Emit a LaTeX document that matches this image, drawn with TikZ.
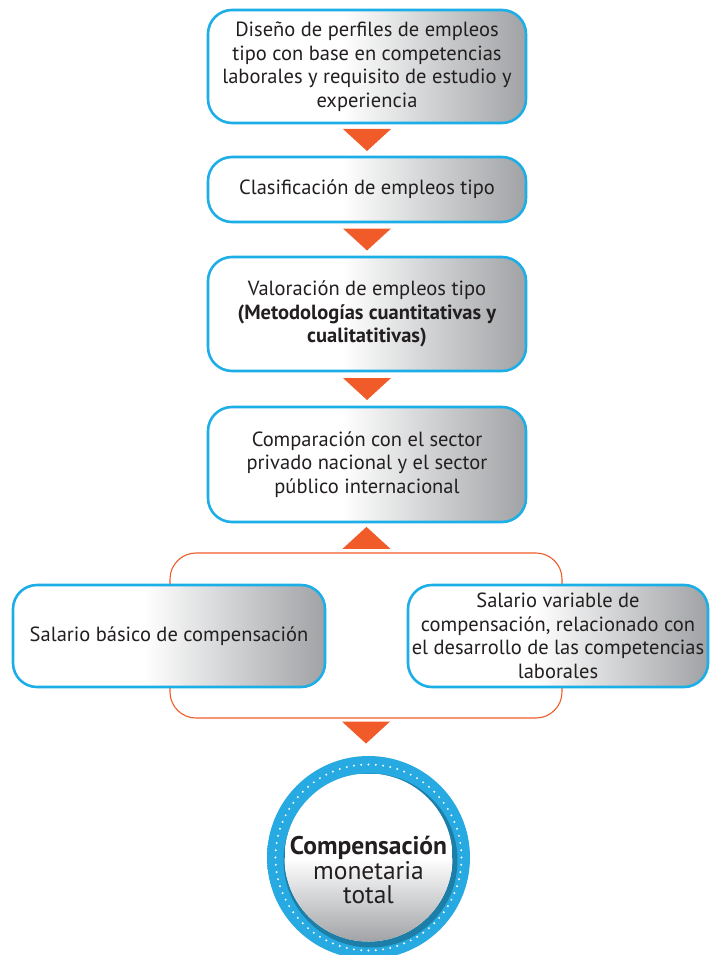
\documentclass[tikz,border=0pt]{standalone}
\usepackage{fontspec}
\setmainfont{PT Sans}
\usepackage{xcolor}
\usetikzlibrary{positioning, calc}

\definecolor{boxblue}{HTML}{1CAEE6}
\definecolor{arroworange}{HTML}{F15A29}
\definecolor{boxgray}{HTML}{A0A2A5}
\definecolor{txtgray}{HTML}{231F20}
\definecolor{ringblue}{HTML}{27A9E1}
\definecolor{ringdark}{HTML}{0B6DB0}

\pgfdeclareradialshading{ringshade}{\pgfpoint{0bp}{0bp}}{%
  color(0bp)=(ringblue); color(41bp)=(ringblue); color(46bp)=(ringblue!90!black);
  color(50bp)=(ringdark)}

\tikzset{
  stage/.style={draw=boxblue, line width=2.6pt, rounded corners=24pt,
    align=center, text=txtgray, inner sep=0pt,
    font=\fontsize{20.5}{23.5}\selectfont,
    path picture={
      \fill[white, sharp corners] (path picture bounding box.south west)
        rectangle (path picture bounding box.north east);
      \fill[sharp corners, left color=white, right color=boxgray]
        ($(path picture bounding box.south west)!0.42!(path picture bounding box.south east)$)
        rectangle (path picture bounding box.north east);
    }},
  group/.style={draw=arroworange, line width=1.1pt, rounded corners=26pt},
  % white disc that turns grey towards its lower edge
  disc/.style={circle, inner sep=0pt,
    path picture={
      \fill[white] (path picture bounding box.south west)
        rectangle (path picture bounding box.north east);
      \foreach \i in {0,...,39}{
        \pgfmathsetmacro\p{2.5*\i}
        \fill[boxgray!\p!white] ($(path picture bounding box.center)+(-90,\i*2.1)$)
          rectangle ($(path picture bounding box.center)+(90,\i*2.1+2.6)$);
      }
    }}
}

% orange arrowheads between the stages
\newcommand{\tridown}[1]{\fill[arroworange] ($(#1)+(-24,-11)$) -- ($(#1)+(24,-11)$) -- ($(#1)+(0,11)$) -- cycle;}
\newcommand{\triup}[1]{\fill[arroworange] ($(#1)+(-24,11)$) -- ($(#1)+(24,11)$) -- ($(#1)+(0,-11)$) -- cycle;}

\begin{document}
\begin{tikzpicture}[x=1pt, y=-1pt]
    \useasboundingbox (0,0) rectangle (710,955);

    % Frame joining the two salary boxes
    \node[group, minimum width=392pt, minimum height=165pt] (grp) at (366,635.5) {};

    % Main chain of stages
    \node[stage, minimum width=318pt, minimum height=113pt] (perfil) at (367,66.5)
        {Diseño de perfiles de empleos\\ tipo con base en competencias\\ laborales y requisito de estudio y\\ experiencia};
    \node[stage, minimum width=318pt, minimum height=65pt] (clasif) at (367,189.5)
        {Clasificación de empleos tipo};
    \node[stage, minimum width=318pt, minimum height=114pt] (valor) at (367,314)
        {Valoración de empleos tipo\\ \textbf{(Metodologías cuantitativas y}\\ \textbf{cualitatitivas)}};
    \node[stage, minimum width=318pt, minimum height=115pt] (compar) at (367,464.5)
        {Comparación con el sector\\ privado nacional y el sector\\ público internacional};

    % The two salary boxes
    \node[stage, minimum width=312pt, minimum height=102pt] (basico) at (169,636)
        {Salario básico de compensación};
    \node[stage, minimum width=300pt, minimum height=102pt] (variable) at (558,636)
        {Salario variable de\\ compensación, relacionado con\\ el desarrollo de las competencias\\ laborales};

    % Arrowheads
    \coordinate (a1) at ($(perfil.south)!0.5!(clasif.north)$);
    \coordinate (a2) at ($(clasif.south)!0.5!(valor.north)$);
    \coordinate (a3) at ($(valor.south)!0.5!(compar.north)$);
    \coordinate (a4) at ($(compar.south)!0.5!(grp.north)$);
    \coordinate (a5) at ($(grp.south)+(0,14)$);
    \tridown{a1}
    \tridown{a2}
    \tridown{a3}
    \triup{a4}
    \tridown{a5}

    % Result: total compensation
    \node[circle, minimum size=203pt, inner sep=0pt, shading=ringshade] (total) at (368.5,857.5) {};
    \fill[black, opacity=0.25] ($(total.center)+(2,3)$) circle (87pt);
    \node[disc, minimum size=168pt] (core) at (total.center) {};
    \foreach \a in {0,4.5,...,355.5}
        \fill[white] ($(total.center)+(\a:93)$) circle (1.1pt);
    \node[align=center, text=txtgray, font=\fontsize{25.5}{24.5}\selectfont] (totaltxt) at (368.5,870)
        {\textbf{Compensación}\\ monetaria\\ total};
\end{tikzpicture}
\end{document}
